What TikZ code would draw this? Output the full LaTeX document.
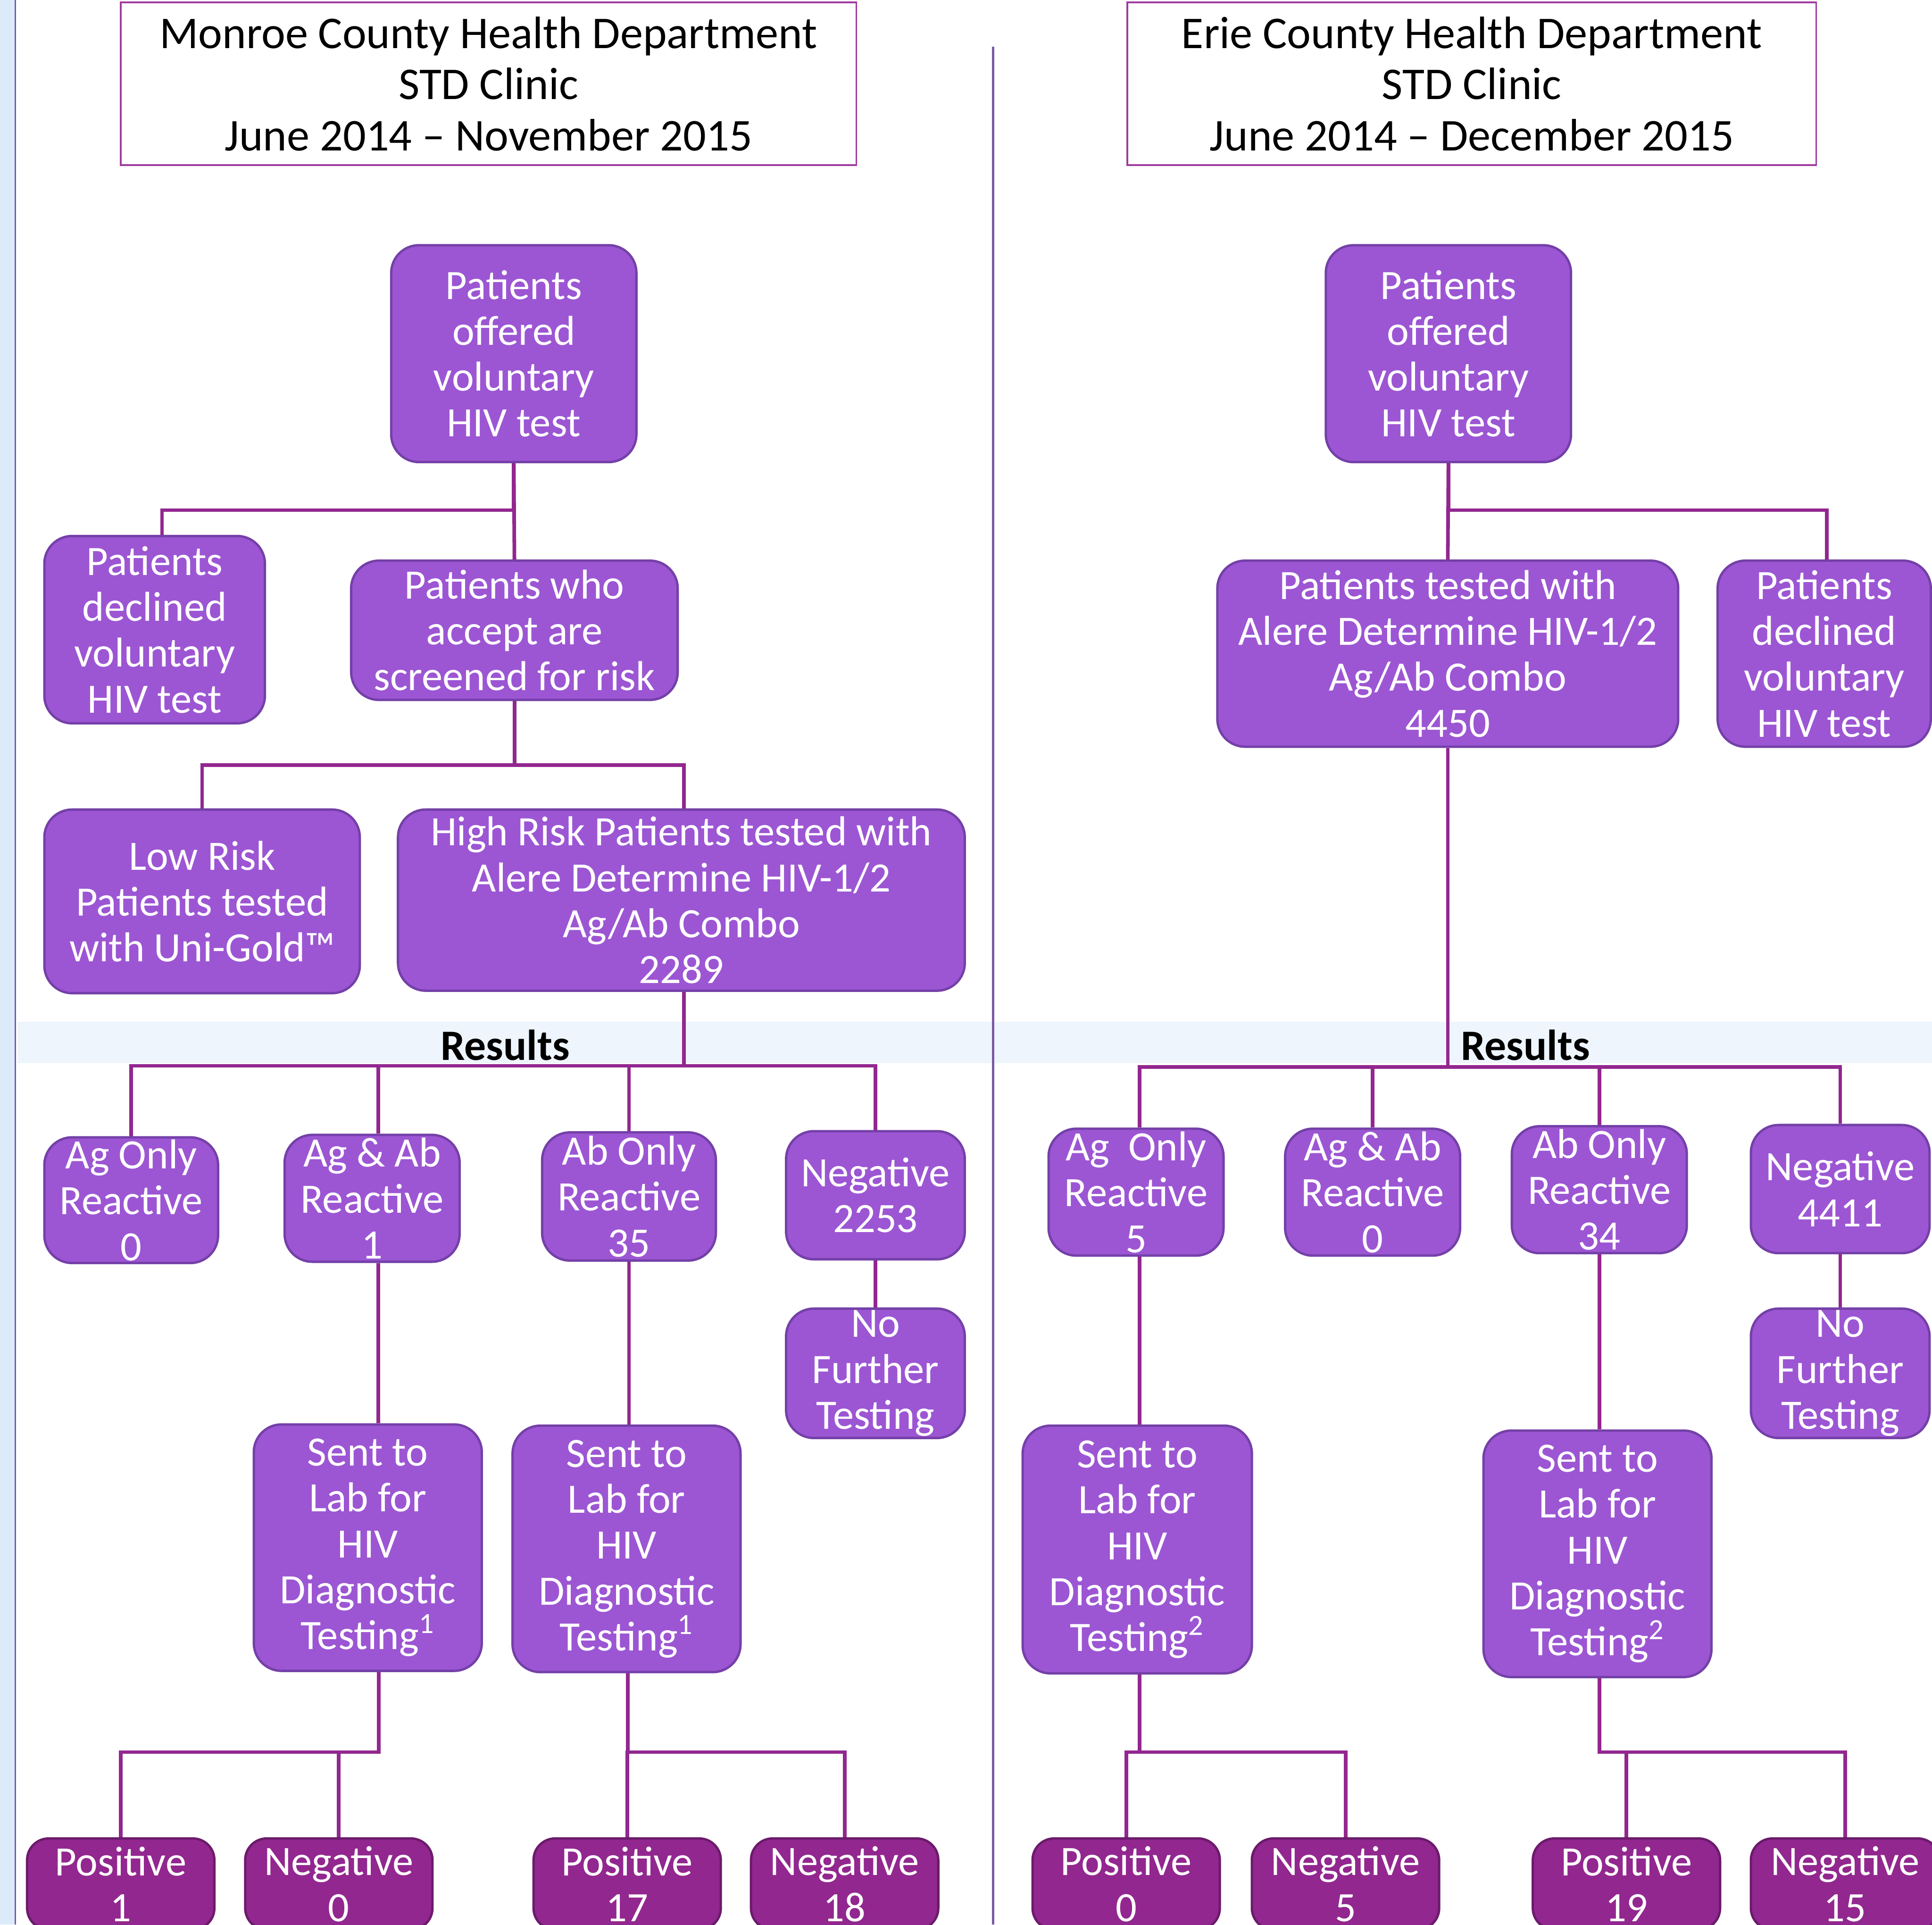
\documentclass[tikz,border=0pt]{standalone}
\usepackage{fontspec}
\setmainfont{Carlito}
\usepackage{tikz}
\definecolor{boxfill}{HTML}{9C56D3}
\definecolor{boxedge}{HTML}{7440A8}
\definecolor{conn}{HTML}{92278F}
\definecolor{darkfill}{HTML}{92278F}
\definecolor{darkedge}{HTML}{6B1B6B}
\definecolor{band}{HTML}{EEF5FC}
\definecolor{strip}{HTML}{DCEBFA}
\definecolor{divline}{HTML}{7B5AA6}
\definecolor{hdedge}{HTML}{A03CA0}
\usetikzlibrary{calc}

\begin{document}
\begin{tikzpicture}[x=0.02cm,y=-0.02cm]
    \tikzset{
      bx/.style 2 args={
        rectangle,
        rounded corners=0.45cm,
        draw=boxedge,
        fill=boxfill,
        line width=1.1pt,
        text=white,
        align=center,
        inner sep=0pt,
        minimum width=#1*0.02cm,
        minimum height=#2*0.02cm,
        font=\fontsize{19.3}{21.2}\selectfont},
      dk/.style={bx={152}{74}, fill=darkfill, draw=darkedge, rounded corners=0.35cm},
      hd/.style 2 args={
        rectangle,
        draw=hdedge,
        fill=white,
        line width=0.8pt,
        align=center,
        inner sep=0pt,
        minimum width=#1*0.02cm,
        minimum height=#2*0.02cm,
        font=\fontsize{21}{23.6}\selectfont},
      ln/.style={draw=conn, line width=1.7pt}}
    \useasboundingbox (0,0) rectangle (1568,1562);
    \clip (0,0) rectangle (1568,1562);
    \fill[strip] (0,0) rectangle (12,1562);
    \draw[divline, line width=0.6pt] (12.5,0) -- (12.5,1562);
    \fill[band] (14,829) rectangle (1568,863);
    \draw[divline, line width=0.9pt] (806,38) -- (806,1562);
    \node at (410, 848) (lres) {\fontsize{20}{24}\selectfont\bfseries Results};
    \node at (1238, 848) (rres) {\fontsize{20}{24}\selectfont\bfseries Results};

    \node[hd={597}{132}] at (396.5, 68) (l0) {Monroe County Health Department\\ STD Clinic\\ June 2014 -- November 2015};
    \node[bx={199}{176}] at (417, 287) (l1) {Patients\\ offered\\ voluntary\\ HIV test};
    \node[bx={179}{152}] at (125.5, 511) (l2) {Patients\\ declined\\ voluntary\\ HIV test};
    \node[bx={265}{113}] at (417.5, 511.5) (l3) {Patients who\\ accept are\\ screened for risk};
    \node[bx={256}{149}] at (164, 731.5) (l4) {Low Risk\\ Patients tested\\ with Uni-Gold™};
    \node[bx={460}{147}] at (553, 730.5) (l5) {High Risk Patients tested with\\ Alere Determine HIV-1/2\\ Ag/Ab Combo\\ 2289};
    \node[bx={141}{102}] at (106.5, 974) (l6) {Ag Only\\ Reactive\\ 0};
    \node[bx={142}{103}] at (302, 972.5) (l7) {Ag \& Ab\\ Reactive\\ 1};
    \node[bx={141}{104}] at (510.5, 971) (l8) {Ab Only\\ Reactive\\ 35};
    \node[bx={145}{104}] at (710.5, 970) (l9) {Negative\\ 2253};
    \node[bx={145}{105}] at (710.5, 1114.5) (l10) {No\\ Further\\ Testing};
    \node[bx={185}{200}] at (298.5, 1256) (l11) {Sent to\\ Lab for\\ HIV\\ Diagnostic\\ Testing\textsuperscript{1}};
    \node[bx={185}{200}] at (508.5, 1257) (l12) {Sent to\\ Lab for\\ HIV\\ Diagnostic\\ Testing\textsuperscript{1}};
    \node[dk] at (98, 1529) (l13) {Positive\\ 1};
    \node[dk] at (275, 1529) (l14) {Negative\\ 0};
    \node[dk] at (509, 1529) (l15) {Positive\\ 17};
    \node[dk] at (685.5, 1529) (l16) {Negative\\ 18};

    \node[hd={559}{132}] at (1194.5, 68) (r0) {Erie County Health Department\\ STD Clinic\\ June 2014 -- December 2015};
    \node[bx={199}{176}] at (1175.5, 287) (r1) {Patients\\ offered\\ voluntary\\ HIV test};
    \node[bx={374}{151}] at (1175, 530.5) (r2) {Patients tested with\\ Alere Determine HIV-1/2\\ Ag/Ab Combo\\ 4450};
    \node[bx={173}{151}] at (1480.5, 530.5) (r3) {Patients\\ declined\\ voluntary\\ HIV test};
    \node[bx={142}{103}] at (922, 967.5) (r4) {Ag\ \ Only\\ Reactive\\ 5};
    \node[bx={142}{103}] at (1114, 967.5) (r5) {Ag \& Ab\\ Reactive\\ 0};
    \node[bx={142}{103}] at (1298, 965.5) (r6) {Ab Only\\ Reactive\\ 34};
    \node[bx={145}{104}] at (1493.5, 965) (r7) {Negative\\ 4411};
    \node[bx={145}{105}] at (1493.5, 1114.5) (r8) {No\\ Further\\ Testing};
    \node[bx={186}{201}] at (923, 1257.5) (r9) {Sent to\\ Lab for\\ HIV\\ Diagnostic\\ Testing\textsuperscript{2}};
    \node[bx={185}{200}] at (1296.5, 1261) (r10) {Sent to\\ Lab for\\ HIV\\ Diagnostic\\ Testing\textsuperscript{2}};
    \node[dk] at (914, 1529) (r11) {Positive\\ 0};
    \node[dk] at (1092, 1529) (r12) {Negative\\ 5};
    \node[dk] at (1320, 1529) (r13) {Positive\\ 19};
    \node[dk, minimum width=153*0.02cm] at (1497.5, 1529) (r14) {Negative\\ 15};

    \draw[ln] (l1.south) -- (l3.north);
    \draw[ln] (l1.south) -- ++(0,38) -| ([xshift=6*0.02cm]l2.north);
    \draw[ln] (l3.south) -- ++(0,52) coordinate (l3b) -| (l4.north);
    \draw[ln] (l3b) -| ([xshift=2*0.02cm]l5.north);
    \draw[ln] ([xshift=2*0.02cm]l5.south) -- ++(0,60) coordinate (l5b) -| (l6.north);
    \draw[ln] (l5b) -| ([xshift=5*0.02cm]l7.north);
    \draw[ln] (l5b) -| (l8.north);
    \draw[ln] (l5b) -| (l9.north);
    \draw[ln] (l9.south) -- (l10.north);
    \draw[ln] ([xshift=5*0.02cm]l7.south) -- ([xshift=5*0.02cm]l7.south |- l11.north);
    \draw[ln] (l8.south) -- (l8.south |- l12.north);
    \draw[ln] ([xshift=9*0.02cm]l11.south) -- ++(0,65) coordinate (l11b) -| (l13.north);
    \draw[ln] (l11b) -| (l14.north);
    \draw[ln] ([xshift=1*0.02cm]l12.south) -- ++(0,64) coordinate (l12b) -| (l15.north);
    \draw[ln] (l12b) -| (l16.north);

    \draw[ln] (r1.south) -- (r2.north);
    \draw[ln] (r1.south) -- ++(0,38) -| ([xshift=2*0.02cm]r3.north);
    \draw[ln] (r2.south) -- ++(0,259) coordinate (r2b) -| ([xshift=3*0.02cm]r4.north);
    \draw[ln] (r2b) -| (r5.north);
    \draw[ln] (r2b) -| (r6.north);
    \draw[ln] (r2b) -| (r7.north);
    \draw[ln] (r7.south) -- (r8.north);
    \draw[ln] ([xshift=3*0.02cm]r4.south) -- ([xshift=3*0.02cm]r4.south |- r9.north);
    \draw[ln] (r6.south) -- (r6.south |- r10.north);
    \draw[ln] ([xshift=2*0.02cm]r9.south) -- ++(0,63) coordinate (r9b) -| (r11.north);
    \draw[ln] (r9b) -| (r12.north);
    \draw[ln] ([xshift=1.5*0.02cm]r10.south) -- ++(0,60) coordinate (r10b) -| (r13.north);
    \draw[ln] (r10b) -| (r14.north);
  \end{tikzpicture}
\end{document}
